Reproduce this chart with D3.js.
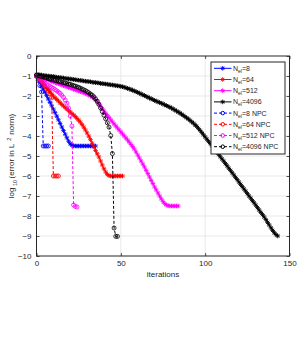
<!DOCTYPE html>
<html>
<head>
<meta charset="utf-8">
<script src="https://cdn.jsdelivr.net/npm/d3@7"></script>
<style>
  body { margin: 0; background: #fff; }
  svg { display: block; font-family: "Liberation Sans", Arial, Helvetica, sans-serif; }
</style>
</head>
<body>
<div id="container"></div>
<script>
var w = 299;
var h = 337;

// log10 error per iteration (index = iteration number)
var errN8 = [-1.00,-1.15,-1.30,-1.47,-1.64,-1.81,-1.98,-2.15,-2.32,-2.49,-2.66,-2.83,-3.01,-3.19,-3.37,-3.55,-3.73,-3.91,-4.09,-4.26,
  -4.39,-4.46,-4.49,-4.50,-4.50,-4.50,-4.50,-4.50,-4.50,-4.50,-4.50,-4.50,-4.50,-4.50,-4.50,-4.50];

var errN64 = [-1.00,-1.09,-1.18,-1.28,-1.37,-1.48,-1.58,-1.69,-1.79,-1.90,-2.00,-2.09,-2.17,-2.25,-2.34,-2.42,-2.50,-2.58,-2.65,-2.73,
  -2.80,-2.88,-2.95,-3.03,-3.12,-3.21,-3.31,-3.43,-3.56,-3.70,-3.85,-4.01,-4.18,-4.36,-4.54,-4.72,-4.89,-5.05,-5.25,-5.45,
  -5.64,-5.80,-5.92,-5.98,-6.00,-6.00,-6.00,-6.00,-6.00,-6.00,-6.00,-6.00];

var errN512 = [-1.00,-1.03,-1.06,-1.09,-1.12,-1.15,-1.18,-1.21,-1.24,-1.27,-1.30,-1.33,-1.36,-1.39,-1.42,-1.45,-1.48,-1.51,-1.54,-1.57,
  -1.60,-1.63,-1.66,-1.69,-1.72,-1.75,-1.78,-1.81,-1.84,-1.87,-1.91,-1.95,-2.00,-2.05,-2.11,-2.20,-2.30,-2.40,-2.51,-2.63,
  -2.75,-2.86,-2.97,-3.08,-3.19,-3.30,-3.40,-3.50,-3.60,-3.70,-3.80,-3.90,-4.00,-4.10,-4.20,-4.31,-4.42,-4.53,-4.65,-4.80,
  -4.95,-5.10,-5.25,-5.40,-5.55,-5.72,-5.88,-6.05,-6.22,-6.38,-6.55,-6.70,-6.85,-7.00,-7.15,-7.28,-7.38,-7.45,-7.48,-7.50,
  -7.50,-7.50,-7.50,-7.50,-7.50];

var errN4096 = [-0.92,-0.93,-0.94,-0.95,-0.97,-0.98,-0.99,-1.00,-1.01,-1.02,-1.03,-1.04,-1.06,-1.07,-1.08,-1.09,-1.10,-1.12,-1.13,-1.14,
  -1.15,-1.16,-1.17,-1.19,-1.20,-1.21,-1.22,-1.23,-1.25,-1.26,-1.27,-1.28,-1.29,-1.31,-1.32,-1.33,-1.34,-1.35,-1.37,-1.38,
  -1.39,-1.40,-1.41,-1.43,-1.44,-1.45,-1.46,-1.48,-1.49,-1.50,-1.52,-1.54,-1.56,-1.59,-1.62,-1.65,-1.68,-1.71,-1.75,-1.78,
  -1.82,-1.86,-1.90,-1.94,-1.98,-2.02,-2.06,-2.10,-2.14,-2.18,-2.22,-2.26,-2.29,-2.33,-2.36,-2.40,-2.44,-2.48,-2.52,-2.56,
  -2.60,-2.65,-2.70,-2.75,-2.80,-2.85,-2.91,-2.97,-3.03,-3.09,-3.15,-3.22,-3.29,-3.36,-3.44,-3.52,-3.62,-3.72,-3.83,-3.94,
  -4.05,-4.16,-4.27,-4.38,-4.49,-4.60,-4.71,-4.82,-4.93,-5.04,-5.15,-5.26,-5.38,-5.49,-5.61,-5.72,-5.84,-5.95,-6.07,-6.18,
  -6.30,-6.42,-6.53,-6.65,-6.76,-6.88,-7.00,-7.11,-7.23,-7.34,-7.46,-7.58,-7.70,-7.82,-7.93,-8.05,-8.18,-8.32,-8.45,-8.59,
  -8.72,-8.84,-8.93,-9.00];

var errN8npc = [-1.00,-1.22,-1.48,-1.80,-4.50,-4.50,-4.50,-4.50];

var errN64npc = [-1.00,-1.10,-1.20,-1.30,-1.41,-1.52,-1.63,-1.75,-1.89,-2.08,-6.00,-6.00,-6.00,-6.00];

var errN512npc = [-1.00,-1.07,-1.15,-1.22,-1.30,-1.37,-1.44,-1.48,-1.53,-1.57,-1.62,-1.68,-1.74,-1.80,-1.87,-1.96,-2.07,-2.20,-2.36,-2.60,
  -3.00,-3.50,-7.45,-7.52,-7.55];

var errN4096npc = [-0.95,-0.98,-1.00,-1.03,-1.05,-1.08,-1.10,-1.13,-1.15,-1.18,-1.20,-1.22,-1.24,-1.27,-1.29,-1.31,-1.33,-1.35,-1.38,-1.40,
  -1.42,-1.45,-1.48,-1.51,-1.54,-1.57,-1.61,-1.65,-1.69,-1.73,-1.78,-1.84,-1.90,-1.96,-2.04,-2.14,-2.26,-2.42,-2.60,-2.78,
  -2.96,-3.14,-3.34,-3.56,-3.98,-4.88,-8.60,-9.02,-9.02];

var nel = ["8", "64", "512", "4096", "8", "64", "512", "4096"];
var suffix = ["", "", "", "", " NPC", " NPC", " NPC", " NPC"];
var colors = ["#0000ff", "#ff0000", "#ff00ff", "#000000", "#0000ff", "#ff0000", "#ff00ff", "#000000"];
var xTicks = [0, 50, 100, 150];
var yTicks = [-10, -9, -8, -7, -6, -5, -4, -3, -2, -1, 0];

var allSeries = [errN8, errN64, errN512, errN4096, errN8npc, errN64npc, errN512npc, errN4096npc].map(function(v, i) {
  return { values: v, color: colors[i], npc: i >= 4, nel: nel[i], suffix: suffix[i] };
});

var svg = d3.select("div#container")
    .append("svg")
    .attr("width", w)
    .attr("height", h)
    .attr("viewBox", "0 0 " + w + " " + h);

var x = d3.scaleLinear().domain([0, 150]).range([36.5, 289.5]);
var y = d3.scaleLinear().domain([-10, 0]).range([256, 56]);

var axisColor = "#262626";

// grid
var grid = svg.append("g").attr("stroke", "#e3e3e3").attr("stroke-width", 0.8);
grid.selectAll(".gy").data(yTicks.slice(1, -1)).enter().append("line")
    .attr("x1", x(0)).attr("x2", x(150))
    .attr("y1", d => y(d)).attr("y2", d => y(d));
grid.selectAll(".gx").data(xTicks.slice(1, -1)).enter().append("line")
    .attr("y1", y(-10)).attr("y2", y(0))
    .attr("x1", d => x(d)).attr("x2", d => x(d));

// asterisk marker
var r = 2.3, d2 = r * 0.7;
var starPath = "M" + (-r) + ",0L" + r + ",0M0," + (-r) + "L0," + r +
  "M" + (-d2) + "," + (-d2) + "L" + d2 + "," + d2 + "M" + (-d2) + "," + d2 + "L" + d2 + "," + (-d2);

var line = d3.line().x((d, i) => x(i)).y(d => y(d));

allSeries.forEach(function(s) {
  var g = svg.append("g");
  g.append("path")
    .datum(s.values)
    .attr("d", line)
    .attr("fill", "none")
    .attr("stroke", s.color)
    .attr("stroke-width", 1)
    .attr("stroke-dasharray", s.npc ? "3,2" : null);
  if (s.npc) {
    g.selectAll("circle").data(s.values).enter().append("circle")
      .attr("cx", (d, i) => x(i)).attr("cy", d => y(d))
      .attr("r", 2).attr("fill", "none")
      .attr("stroke", s.color).attr("stroke-width", 0.8);
  } else {
    g.selectAll("path.m").data(s.values).enter().append("path")
      .attr("class", "m")
      .attr("transform", (d, i) => "translate(" + x(i) + "," + y(d) + ")")
      .attr("d", starPath)
      .attr("fill", "none")
      .attr("stroke", s.color).attr("stroke-width", 0.9);
  }
});

// axes
function styleAxis(g) {
  g.select(".domain").remove();
  g.selectAll("line").attr("stroke", axisColor).attr("stroke-width", 0.8);
  g.selectAll("text").attr("fill", axisColor).attr("font-size", "8px")
    .attr("font-family", "Liberation Sans, Arial, sans-serif");
}

svg.append("g")
    .attr("transform", "translate(0," + y(-10) + ")")
    .call(d3.axisBottom(x).tickValues(xTicks).tickSizeInner(-3).tickSizeOuter(0).tickPadding(4))
    .call(styleAxis);
svg.append("g")
    .attr("transform", "translate(0," + y(0) + ")")
    .call(d3.axisTop(x).tickValues(xTicks).tickSizeInner(-3).tickSizeOuter(0).tickFormat(""))
    .call(styleAxis);
svg.append("g")
    .attr("transform", "translate(" + x(0) + ",0)")
    .call(d3.axisLeft(y).tickValues(yTicks).tickSizeInner(-3).tickSizeOuter(0).tickPadding(5).tickFormat(d3.format("d")))
    .call(styleAxis);
svg.append("g")
    .attr("transform", "translate(" + x(150) + ",0)")
    .call(d3.axisRight(y).tickValues(yTicks).tickSizeInner(-3).tickSizeOuter(0).tickFormat(""))
    .call(styleAxis);

// axes box
svg.append("rect")
    .attr("x", x(0)).attr("y", y(0))
    .attr("width", x(150) - x(0)).attr("height", y(-10) - y(0))
    .attr("fill", "none").attr("stroke", axisColor).attr("stroke-width", 1);

// labels
svg.append("text")
    .attr("x", (x(0) + x(150)) / 2).attr("y", 277)
    .attr("text-anchor", "middle").attr("font-size", "8px").attr("fill", axisColor)
    .text("iterations");

var yl = svg.append("text")
    .attr("transform", "translate(14," + ((y(0) + y(-10)) / 2) + ") rotate(-90)")
    .attr("text-anchor", "middle").attr("font-size", "8px").attr("fill", axisColor);
yl.append("tspan").text("log");
yl.append("tspan").attr("dx", 1.5).attr("dy", 2.5).attr("font-size", "5.5px").text("10");
yl.append("tspan").attr("dx", 1.5).attr("dy", -2.5).text("(error in L");
yl.append("tspan").attr("dx", 3).attr("dy", -3.5).attr("font-size", "5.5px").text("2");
yl.append("tspan").attr("dx", 3).attr("dy", 3.5).text("norm)");

// legend
var lg = svg.append("g");
lg.append("rect")
    .attr("x", 211).attr("y", 62).attr("width", 74).attr("height", 92)
    .attr("fill", "#fff").attr("stroke", axisColor).attr("stroke-width", 1);

var rowY = d3.scaleLinear().domain([0, 7]).range([68.3, 146.7]);
allSeries.forEach(function(s, i) {
  var yy = rowY(i);
  lg.append("line")
    .attr("x1", 214).attr("x2", 231.5).attr("y1", yy).attr("y2", yy)
    .attr("stroke", s.color).attr("stroke-width", 1)
    .attr("stroke-dasharray", s.npc ? "3,2" : null);
  if (s.npc) {
    lg.append("circle").attr("cx", 222.7).attr("cy", yy).attr("r", 1.8)
      .attr("fill", "none").attr("stroke", s.color).attr("stroke-width", 1);
  } else {
    lg.append("path").attr("transform", "translate(222.7," + yy + ")")
      .attr("d", starPath).attr("fill", "none").attr("stroke", s.color).attr("stroke-width", 0.9);
  }
  var t = lg.append("text").attr("x", 233).attr("y", yy + 2.5)
    .attr("font-size", "7px").attr("fill", axisColor);
  t.append("tspan").text("N");
  t.append("tspan").attr("dy", 2).attr("font-size", "5px").text("el");
  t.append("tspan").attr("dy", -2).text("=" + s.nel + s.suffix);
});
</script>
</body>
</html>
